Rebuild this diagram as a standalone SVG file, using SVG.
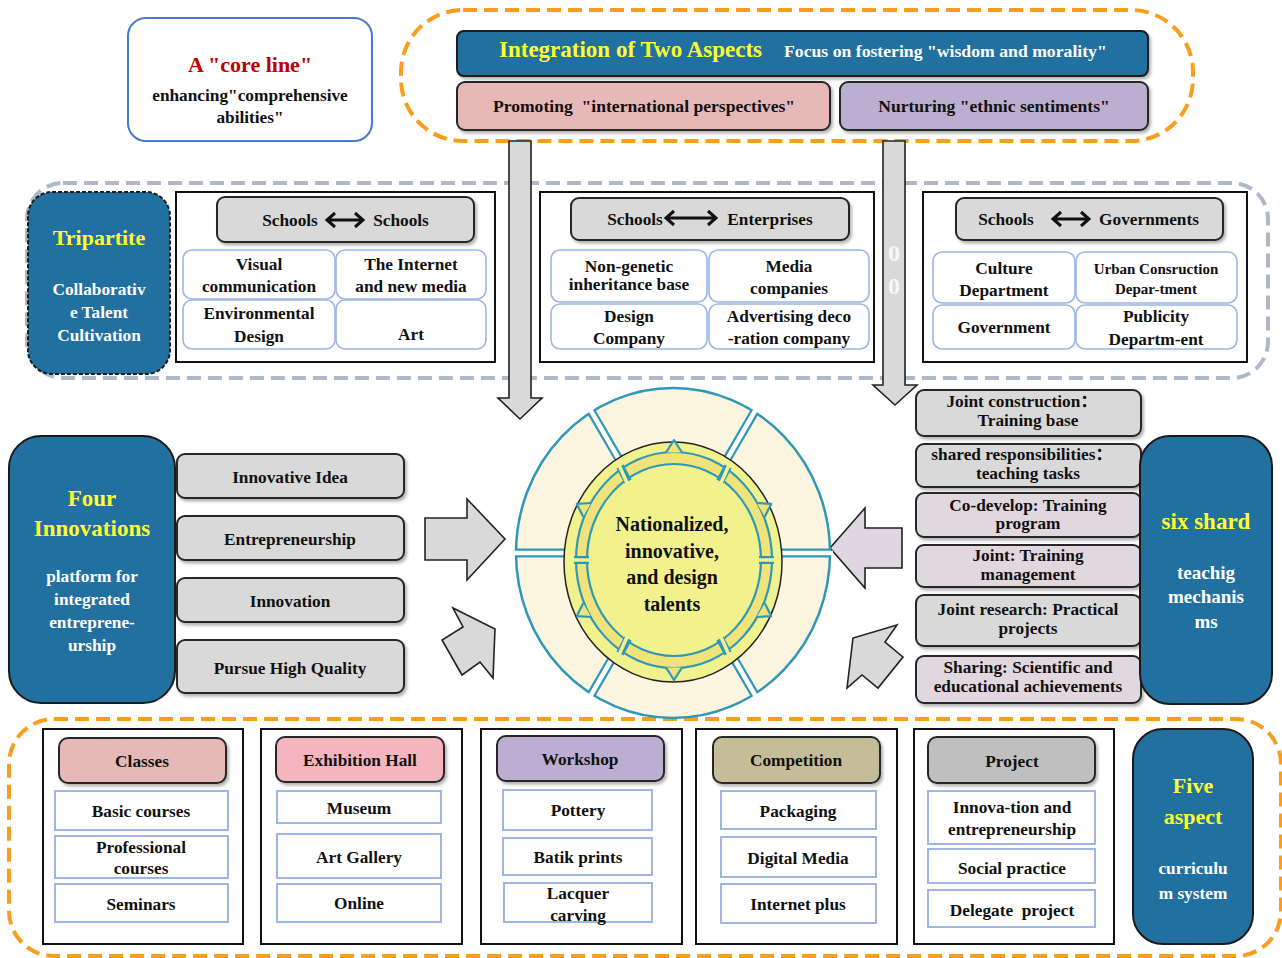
<svg xmlns="http://www.w3.org/2000/svg" width="1282" height="958" viewBox="0 0 1282 958">
<defs>
<style>
text{font-family:"Liberation Serif","Noto Sans CJK SC",serif;font-weight:bold;text-anchor:middle;fill:#111;font-size:17.3px}
.y{fill:#FFFF33}
.w{fill:#fff}
.blue{fill:#22709F;stroke:#1a1a1a;stroke-width:2}
.gb{fill:#D9D9D9;stroke:#262626;stroke-width:2}
.mv{fill:#E0D7DF;stroke:#262626;stroke-width:2}
.cell{fill:#fff;stroke:#9DB6E4;stroke-width:1.6}
.item{fill:#fff;stroke:#9DB6E4;stroke-width:2}
.frame{fill:#fff;stroke:#111;stroke-width:2}
.arrow{fill:#D9D9D9;stroke:#222;stroke-width:1.6}
.od{fill:none;stroke:#F99E1C;stroke-width:4;stroke-dasharray:14 7}
.gd{fill:none;stroke:#ADB9CA;stroke-width:4;stroke-dasharray:14 7}
.dbl{fill:none;stroke:#111;stroke-width:3}
.pre{white-space:pre}
</style>
<filter id="sh" x="-10%" y="-10%" width="130%" height="150%"><feDropShadow dx="2" dy="2.5" stdDeviation="1.5" flood-color="#000" flood-opacity="0.3"/></filter>
</defs>
<rect width="1282" height="958" fill="#fff"/>

<rect class="od" x="401" y="10" width="792" height="131" rx="62"/>
<rect class="gd" x="27" y="183" width="1241" height="195" rx="36"/>
<rect class="od" x="9" y="719" width="1272" height="237" rx="45"/>

<g id="connectors">
<polygon class="arrow" points="509,141 531,141 531,398 542,398 520,419 498,398 509,398"/>
<polygon class="arrow" points="883,141 905,141 905,385 917,385 895,405 873,385 883,385"/>
<text x="894" y="261" style="font-size:24px;fill:#F7F7F7">0</text>
<text x="894" y="294" style="font-size:24px;fill:#F7F7F7">0</text>
<polygon class="arrow" points="425,518 467,518 467,499 505,539 467,580 467,560 425,560"/>
<polygon class="arrow" points="453,608 495,629 493,678 480,662 462,675 442,640 463,627"/>
<polygon class="arrow" style="fill:#DED6E0" points="830,548 865,508 865,528 902,528 902,568 865,568 865,588"/>
<polygon class="arrow" points="897,625 853,638 847,688 862,675 878,688 903,657 885,642"/>
</g>

<g id="core-line">
<rect x="128" y="18" width="244" height="123" rx="18" fill="#fff" stroke="#4A78CC" stroke-width="2"/>
<text x="250" y="72" style="font-size:22px;fill:#C00000">A "core line"</text>
<text x="250" y="101">enhancing"comprehensive</text>
<text x="250" y="123">abilities"</text>
</g>

<g id="integration">
<rect class="blue" x="457" y="31" width="691" height="45" rx="7" filter="url(#sh)"/>
<text x="499" y="57" class="y" style="font-size:23px;text-anchor:start">Integration of Two Aspects</text>
<text x="784" y="57" class="w" style="text-anchor:start;font-size:17.7px">Focus on fostering "wisdom and morality"</text>
</g>
<g id="promoting">
<rect x="457" y="82" width="373" height="48" rx="8" fill="#E6B8B7" stroke="#262626" stroke-width="2" filter="url(#sh)"/>
<text x="644" y="112" class="pre" style="font-size:17.6px">Promoting  "international perspectives"</text>
</g>
<g id="nurturing">
<rect x="840" y="82" width="308" height="48" rx="8" fill="#BCAED0" stroke="#262626" stroke-width="2" filter="url(#sh)"/>
<text x="994" y="112" style="font-size:17.6px">Nurturing "ethnic sentiments"</text>
</g>

<g id="tripartite">
<rect x="28" y="192" width="142" height="182" rx="24" fill="#22709F" stroke="#1a1a1a" stroke-width="2" stroke-dasharray="4 2"/>
<text x="99" y="245" class="y" style="font-size:22px">Tripartite</text>
<text x="99" y="295" class="w">Collaborativ</text>
<text x="99" y="318" class="w">e Talent</text>
<text x="99" y="341" class="w">Cultivation</text>
</g>

<g id="schools-schools">
<rect class="frame" x="176" y="192" width="319" height="170"/>
<rect class="gb" x="217" y="197" width="257" height="45" rx="8" filter="url(#sh)"/>
<text x="290" y="226">Schools</text>
<path class="dbl" d="M329 220 H361 M335 213 L327 220 L335 227 M355 213 L363 220 L355 227"/>
<text x="401" y="226">Schools</text>
<rect class="cell" x="183" y="250" width="152" height="49" rx="9"/>
<rect class="cell" x="336" y="250" width="150" height="49" rx="9"/>
<rect class="cell" x="183" y="300" width="152" height="49" rx="9"/>
<rect class="cell" x="336" y="300" width="150" height="49" rx="9"/>
<text x="259" y="270">Visual</text>
<text x="259" y="292">communication</text>
<text x="411" y="270">The Internet</text>
<text x="411" y="292">and new media</text>
<text x="259" y="319">Environmental</text>
<text x="259" y="342">Design</text>
<text x="411" y="340">Art</text>
</g>

<g id="schools-enterprises">
<rect class="frame" x="540" y="192" width="334" height="170"/>
<rect class="gb" x="571" y="198" width="278" height="42" rx="8" filter="url(#sh)"/>
<text x="635" y="225">Schools</text>
<path class="dbl" d="M668 218 H714 M674 211 L666 218 L674 225 M708 211 L716 218 L708 225"/>
<text x="770" y="225">Enterprises</text>
<rect class="cell" x="551" y="250" width="156" height="52" rx="9"/>
<rect class="cell" x="709" y="250" width="160" height="52" rx="9"/>
<rect class="cell" x="551" y="304" width="156" height="45" rx="9"/>
<rect class="cell" x="709" y="304" width="160" height="45" rx="9"/>
<text x="629" y="272">Non-genetic</text>
<text x="629" y="290">inheritance base</text>
<text x="789" y="272">Media</text>
<text x="789" y="294">companies</text>
<text x="629" y="322">Design</text>
<text x="629" y="344">Company</text>
<text x="789" y="322">Advertising deco</text>
<text x="789" y="344">-ration company</text>
</g>

<g id="schools-governments">
<rect class="frame" x="923" y="192" width="324" height="170"/>
<rect class="gb" x="956" y="198" width="267" height="42" rx="8" filter="url(#sh)"/>
<text x="1006" y="225">Schools</text>
<path class="dbl" d="M1055 219 H1087 M1061 212 L1053 219 L1061 226 M1081 212 L1089 219 L1081 226"/>
<text x="1149" y="225">Governments</text>
<rect class="cell" x="933" y="252" width="142" height="51" rx="9"/>
<rect class="cell" x="1076" y="252" width="161" height="51" rx="9"/>
<rect class="cell" x="933" y="305" width="142" height="44" rx="9"/>
<rect class="cell" x="1076" y="305" width="161" height="44" rx="9"/>
<text x="1004" y="274">Culture</text>
<text x="1004" y="296">Department</text>
<text x="1156" y="274" style="font-size:15px">Urban Consruction</text>
<text x="1156" y="294" style="font-size:15px">Depar-tment</text>
<text x="1004" y="333">Government</text>
<text x="1156" y="322">Publicity</text>
<text x="1156" y="345">Departm-ent</text>
</g>

<g id="four-innovations">
<rect class="blue" x="9" y="436" width="166" height="267" rx="32"/>
<text x="92" y="506" class="y" style="font-size:23px">Four</text>
<text x="92" y="536" class="y" style="font-size:23px">Innovations</text>
<text x="92" y="582" class="w">platform for</text>
<text x="92" y="605" class="w">integrated</text>
<text x="92" y="628" class="w">entreprene-</text>
<text x="92" y="651" class="w">urship</text>
</g>
<g id="innovative-idea"><rect class="gb" x="177" y="454" width="227" height="44" rx="8" filter="url(#sh)"/><text x="290" y="483">Innovative Idea</text></g>
<g id="entrepreneurship"><rect class="gb" x="177" y="516" width="227" height="44" rx="8" filter="url(#sh)"/><text x="290" y="545">Entrepreneurship</text></g>
<g id="innovation"><rect class="gb" x="177" y="578" width="227" height="44" rx="8" filter="url(#sh)"/><text x="290" y="607">Innovation</text></g>
<g id="pursue-high-quality"><rect class="gb" x="177" y="640" width="227" height="53" rx="8" filter="url(#sh)"/><text x="290" y="674">Pursue High Quality</text></g>

<g id="center">
<ellipse cx="673" cy="553" rx="157" ry="165" fill="#FDF5DF" stroke="#2F98B8" stroke-width="2.5"/>
<g stroke-linecap="butt">
<path d="M515 553 H575 M831 553 H771 M591.5 411.9 L623 466 M754.5 411.9 L723 466 M591.5 694.1 L623 640 M754.5 694.1 L723 640" stroke="#2F98B8" stroke-width="9" fill="none"/>
<path d="M513 553 H577 M833 553 H769 M590.5 410.2 L624 468 M755.5 410.2 L722 468 M590.5 695.8 L624 638 M755.5 695.8 L722 638" stroke="#fff" stroke-width="4.5" fill="none"/>
</g>
<ellipse cx="673" cy="562" rx="109" ry="120" fill="#F1F18E" stroke="#222" stroke-width="1.5"/>
<path d="M576 560 A98 108 0 1 0 772 560 A98 108 0 1 0 576 560 Z M587 560 A87 96 0 1 1 761 560 A87 96 0 1 1 587 560 Z" fill="#EFE37A" fill-rule="evenodd" stroke="#2F98B8" stroke-width="2.2"/>
<g fill="#EFE37A" stroke="#2F98B8" stroke-width="2.2" stroke-linejoin="round">
<path d="M666 452.5 L674 440 L682 452.5"/>
<path d="M666 667.5 L674 680 L682 667.5"/>
<path d="M764.8 516.8 L771.2 503.9 L756.8 503"/>
<path d="M591.2 503 L576.8 503.9 L583.2 516.8"/>
<path d="M583.2 603.2 L576.8 616.1 L591.2 617"/>
<path d="M756.8 617 L771.2 616.1 L764.8 603.2"/>
</g>
<path d="M574 560 H589 M759 560 H774 M720 481.5 L728 466.5 M628 481.5 L620 466.5 M628 638.5 L620 653.5 M720 638.5 L728 653.5" stroke="#2F98B8" stroke-width="8" fill="none"/>
<path d="M572 560 H591 M757 560 H776 M721 483 L729 465 M627 483 L619 465 M627 637 L619 655 M721 637 L729 655" stroke="#F1F18E" stroke-width="3.5" fill="none"/>
<text x="672" y="531" style="font-size:20px">Nationalized,</text>
<text x="672" y="558" style="font-size:20px">innovative,</text>
<text x="672" y="584" style="font-size:20px">and design</text>
<text x="672" y="611" style="font-size:20px">talents</text>
</g>

<g id="joint-construction"><rect class="gb" x="916" y="390" width="225" height="46" rx="8" filter="url(#sh)"/><text x="1022" y="407">Joint construction：</text><text x="1028" y="426">Training base</text></g>
<g id="shared-responsibilities"><rect class="gb" x="916" y="444" width="225" height="43" rx="8" filter="url(#sh)"/><text x="1022" y="460">shared responsibilities：</text><text x="1028" y="479">teaching tasks</text></g>
<g id="co-develop"><rect class="mv" x="916" y="493" width="225" height="44" rx="8" filter="url(#sh)"/><text x="1028" y="511">Co-develop: Training</text><text x="1028" y="529">program</text></g>
<g id="joint-training"><rect class="mv" x="916" y="545" width="225" height="42" rx="8" filter="url(#sh)"/><text x="1028" y="561">Joint: Training</text><text x="1028" y="580">management</text></g>
<g id="joint-research"><rect class="gb" x="916" y="595" width="225" height="51" rx="8" filter="url(#sh)"/><text x="1028" y="615">Joint research: Practical</text><text x="1028" y="634">projects</text></g>
<g id="sharing"><rect class="mv" x="916" y="656" width="225" height="47" rx="8" filter="url(#sh)"/><text x="1028" y="673">Sharing: Scientific and</text><text x="1028" y="692">educational achievements</text></g>

<g id="six-shard">
<rect class="blue" x="1140" y="436" width="132" height="268" rx="30"/>
<text x="1206" y="529" class="y" style="font-size:23px">six shard</text>
<text x="1206" y="579" class="w" style="font-size:19px">teachig</text>
<text x="1206" y="603" class="w" style="font-size:19px">mechanis</text>
<text x="1206" y="628" class="w" style="font-size:19px">ms</text>
</g>

<g id="classes">
<rect class="frame" x="43" y="729" width="200" height="215"/>
<rect x="59" y="738" width="167" height="45" rx="9" fill="#E6B8B7" stroke="#262626" stroke-width="2" filter="url(#sh)"/>
<text x="142" y="767">Classes</text>
<rect class="item" x="55" y="791" width="173" height="39"/>
<rect class="item" x="55" y="836" width="173" height="42"/>
<rect class="item" x="55" y="884" width="173" height="38"/>
<text x="141" y="817">Basic courses</text>
<text x="141" y="853">Professional</text>
<text x="141" y="874">courses</text>
<text x="141" y="910">Seminars</text>
</g>

<g id="exhibition-hall">
<rect class="frame" x="261" y="729" width="201" height="215"/>
<rect x="276" y="737" width="168" height="45" rx="9" fill="#F4B5BE" stroke="#262626" stroke-width="2" filter="url(#sh)"/>
<text x="360" y="766">Exhibition Hall</text>
<rect class="item" x="277" y="791" width="164" height="32"/>
<rect class="item" x="277" y="834" width="164" height="44"/>
<rect class="item" x="277" y="884" width="164" height="38"/>
<text x="359" y="814">Museum</text>
<text x="359" y="863">Art Gallery</text>
<text x="359" y="909">Online</text>
</g>

<g id="workshop">
<rect class="frame" x="481" y="729" width="201" height="215"/>
<rect x="497" y="736" width="167" height="45" rx="9" fill="#BCAED0" stroke="#262626" stroke-width="2" filter="url(#sh)"/>
<text x="580" y="765">Workshop</text>
<rect class="item" x="503" y="790" width="149" height="40"/>
<rect class="item" x="503" y="838" width="149" height="37"/>
<rect class="item" x="504" y="883" width="148" height="39"/>
<text x="578" y="816">Pottery</text>
<text x="578" y="863">Batik prints</text>
<text x="578" y="899">Lacquer</text>
<text x="578" y="921">carving</text>
</g>

<g id="competition">
<rect class="frame" x="696" y="729" width="201" height="215"/>
<rect x="713" y="737" width="167" height="46" rx="9" fill="#C4BD97" stroke="#262626" stroke-width="2" filter="url(#sh)"/>
<text x="796" y="766">Competition</text>
<rect class="item" x="721" y="791" width="155" height="38"/>
<rect class="item" x="721" y="837" width="155" height="40"/>
<rect class="item" x="721" y="884" width="155" height="39"/>
<text x="798" y="817">Packaging</text>
<text x="798" y="864">Digital Media</text>
<text x="798" y="910">Internet plus</text>
</g>

<g id="project">
<rect class="frame" x="914" y="729" width="200" height="215"/>
<rect x="928" y="737" width="167" height="46" rx="9" fill="#BFBFBF" stroke="#262626" stroke-width="2" filter="url(#sh)"/>
<text x="1012" y="767">Project</text>
<rect class="item" x="928" y="791" width="167" height="53"/>
<rect class="item" x="928" y="849" width="167" height="34"/>
<rect class="item" x="928" y="890" width="167" height="37"/>
<text x="1012" y="813">Innova-tion and</text>
<text x="1012" y="835">entrepreneurship</text>
<text x="1012" y="874">Social practice</text>
<text x="1012" y="916" class="pre">Delegate  project</text>
</g>

<g id="five-aspect">
<rect class="blue" x="1133" y="729" width="120" height="215" rx="30"/>
<text x="1193" y="793" class="y" style="font-size:22px">Five</text>
<text x="1193" y="824" class="y" style="font-size:22px">aspect</text>
<text x="1193" y="874" class="w">curriculu</text>
<text x="1193" y="899" class="w">m system</text>
</g>
</svg>
